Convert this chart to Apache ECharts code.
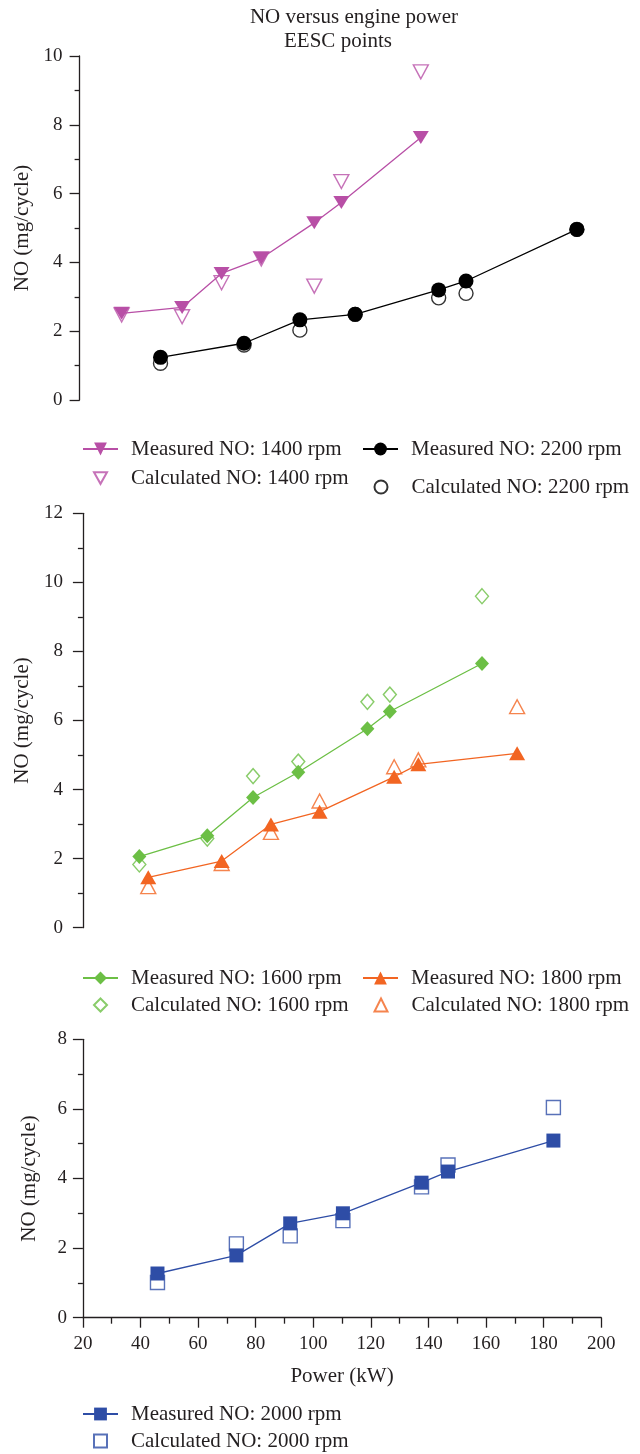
<!DOCTYPE html>
<html>
<head>
<meta charset="utf-8">
<script src="https://cdn.jsdelivr.net/npm/echarts@6/dist/echarts.min.js"></script>
<style>
html,body{margin:0;padding:0;background:#fff;}
#chart{width:640px;height:1454px;}
</style>
</head>
<body>
<div id="chart"></div>
<script>
const titleLines = ['NO versus engine power', 'EESC points'];
const yAxisName = 'NO (mg/cycle)';
const xAxisName = 'Power (kW)';

const power1400 = [34.6, 55.6, 69.3, 83.1, 101.5, 110.9, 138.5];
const measured1400 = [2.52, 2.69, 3.68, 4.12, 5.15, 5.74, 7.63];
const calculated1400 = [2.47, 2.42, 3.41, 4.1, 3.31, 6.35, 9.54];

const power2200 = [48.1, 77.1, 96.5, 115.7, 144.7, 154.2, 192.7];
const measured2200 = [1.24, 1.65, 2.33, 2.49, 3.20, 3.46, 4.96];
const calculated2200 = [1.07, 1.6, 2.03, 2.49, 2.97, 3.10, 4.96];

const power1600 = [39.6, 63.2, 79.1, 94.8, 118.8, 126.6, 158.6];
const measured1600 = [2.06, 2.66, 3.77, 4.50, 5.76, 6.26, 7.65];
const calculated1600 = [1.83, 2.58, 4.39, 4.81, 6.54, 6.75, 9.60];

const power1800 = [42.7, 68.2, 85.3, 102.2, 128.1, 136.5, 170.8];
const measured1800 = [1.46, 1.93, 2.99, 3.36, 4.37, 4.73, 5.05];
const calculated1800 = [1.19, 1.86, 2.76, 3.67, 4.66, 4.86, 6.40];

const power2000 = [45.9, 73.3, 92.0, 110.3, 137.6, 146.8, 183.4];
const measured2000 = [1.27, 1.79, 2.71, 3.00, 3.88, 4.20, 5.09];
const calculated2000 = [1.01, 2.12, 2.35, 2.79, 3.76, 4.39, 6.04];

const seriesNames = {
  m1400: 'Measured NO: 1400 rpm', c1400: 'Calculated NO: 1400 rpm',
  m2200: 'Measured NO: 2200 rpm', c2200: 'Calculated NO: 2200 rpm',
  m1600: 'Measured NO: 1600 rpm', c1600: 'Calculated NO: 1600 rpm',
  m1800: 'Measured NO: 1800 rpm', c1800: 'Calculated NO: 1800 rpm',
  m2000: 'Measured NO: 2000 rpm', c2000: 'Calculated NO: 2000 rpm'
};

const FONT = '"Liberation Serif", "DejaVu Serif", serif';
const INK = '#231f20';
const C1400 = '#b84fa6', C2200 = '#000000', C1600 = '#6cbf45', C1800 = '#f26522', C2000 = '#2e4da6';
const DOWN_TRIANGLE = 'path://M0,0L20,0L10,18Z';

const pairs = (xs, ys) => xs.map((x, i) => [x, ys[i]]);

function yAxisCfg(gi, max, margin, gap) {
  return {
    type: 'value', gridIndex: gi, min: 0, max: max, interval: 2,
    name: yAxisName, nameLocation: 'middle', nameGap: gap,
    nameTextStyle: { fontFamily: FONT, fontSize: 21, color: INK },
    axisLine: { show: true, lineStyle: { color: INK, width: 1.3 } },
    axisTick: { show: true, length: 10, lineStyle: { color: INK, width: 1.3 } },
    minorTick: { show: true, splitNumber: 2, length: 5, lineStyle: { color: INK, width: 1.3 } },
    axisLabel: { fontFamily: FONT, fontSize: 19, color: INK, margin: margin },
    splitLine: { show: false }
  };
}
function xAxisCfg(gi, show) {
  return {
    type: 'value', gridIndex: gi, min: 20, max: 200, interval: 20, show: show,
    name: xAxisName, nameLocation: 'middle', nameGap: 48,
    nameTextStyle: { fontFamily: FONT, fontSize: 21, color: INK },
    axisLine: { show: true, onZero: false, lineStyle: { color: INK, width: 1.3 } },
    axisTick: { show: true, length: 10, lineStyle: { color: INK, width: 1.3 } },
    minorTick: { show: true, splitNumber: 2, length: 6, lineStyle: { color: INK, width: 1.3 } },
    axisLabel: { fontFamily: FONT, fontSize: 19, color: INK, margin: 17 },
    splitLine: { show: false }
  };
}
function measured(name, gi, xs, ys, color, symbol, size, rotate) {
  return {
    name: name, type: 'line', xAxisIndex: gi, yAxisIndex: gi,
    data: pairs(xs, ys), symbol: symbol, symbolSize: size, symbolRotate: rotate || 0,
    showSymbol: true, z: 3,
    lineStyle: { color: color, width: 1.3 },
    itemStyle: { color: color, borderWidth: 0 },
    emphasis: { disabled: true }, animation: false
  };
}
function calculated(name, gi, xs, ys, color, symbol, size, rotate) {
  return {
    name: name, type: 'scatter', xAxisIndex: gi, yAxisIndex: gi,
    data: pairs(xs, ys), symbol: symbol, symbolSize: size, symbolRotate: rotate || 0,
    z: 2,
    itemStyle: { color: 'rgba(255,255,255,0)', borderColor: color, borderWidth: 1.4 },
    emphasis: { disabled: true }, animation: false
  };
}
// one legend entry per component
function legendItem(name, left, cy, isMeasured, icon) {
  const item = icon ? { name: name, icon: icon } : name;
  return {
    orient: 'horizontal', left: left, top: cy - 11, data: [item],
    itemWidth: isMeasured ? 35 : 13, itemHeight: isMeasured ? 16 : 13,
    textStyle: { fontFamily: FONT, fontSize: 21, color: INK, lineHeight: 22,
                 padding: [0, 0, 0, isMeasured ? 8 : 19] },
    selectedMode: false, padding: 0
  };
}

const chart = echarts.init(document.getElementById('chart'), null, { renderer: 'canvas' });
chart.setOption({
  backgroundColor: '#ffffff',
  animation: false,
  graphic: [
    { type: 'text', x: 354, y: 17, style: { text: titleLines[0], fontFamily: FONT, fontSize: 21, fill: INK, align: 'center', verticalAlign: 'middle' } },
    { type: 'text', x: 338, y: 41, style: { text: titleLines[1], fontFamily: FONT, fontSize: 21, fill: INK, align: 'center', verticalAlign: 'middle' } }
  ],
  grid: [
    { left: 79.6, top: 56, width: 518.3, height: 344 },
    { left: 82.9, top: 513.3, width: 518.3, height: 414.4 },
    { left: 82.9, top: 1039.3, width: 518.3, height: 278.4 }
  ],
  xAxis: [xAxisCfg(0, false), xAxisCfg(1, false), xAxisCfg(2, true)],
  yAxis: [yAxisCfg(0, 10, 17, 45), yAxisCfg(1, 12, 20, 47), yAxisCfg(2, 8, 16, 43)],
  legend: [
    legendItem(seriesNames.m1400, 82, 449, true),
    legendItem(seriesNames.c1400, 93, 478, false, DOWN_TRIANGLE),
    legendItem(seriesNames.m2200, 362, 449, true),
    legendItem(seriesNames.c2200, 373.5, 487, false),
    legendItem(seriesNames.m1600, 82, 978, true),
    legendItem(seriesNames.c1600, 93, 1005, false),
    legendItem(seriesNames.m1800, 362, 978, true),
    legendItem(seriesNames.c1800, 373.5, 1005, false),
    legendItem(seriesNames.m2000, 82, 1414, true),
    legendItem(seriesNames.c2000, 93, 1441, false)
  ],
  series: [
    calculated(seriesNames.c1400, 0, power1400, calculated1400, C1400, 'triangle', [15, 14], 180),
    measured(seriesNames.m1400, 0, power1400, measured1400, C1400, 'triangle', [16, 13], 180),
    calculated(seriesNames.c2200, 0, power2200, calculated2200, C2200, 'circle', 14),
    measured(seriesNames.m2200, 0, power2200, measured2200, C2200, 'circle', 15),
    calculated(seriesNames.c1600, 1, power1600, calculated1600, C1600, 'diamond', [13, 15]),
    measured(seriesNames.m1600, 1, power1600, measured1600, C1600, 'diamond', [14, 15]),
    calculated(seriesNames.c1800, 1, power1800, calculated1800, C1800, 'triangle', [15, 14]),
    measured(seriesNames.m1800, 1, power1800, measured1800, C1800, 'triangle', [16, 14]),
    calculated(seriesNames.c2000, 2, power2000, calculated2000, C2000, 'rect', 14),
    measured(seriesNames.m2000, 2, power2000, measured2000, C2000, 'rect', 14)
  ]
});
</script>
</body>
</html>
